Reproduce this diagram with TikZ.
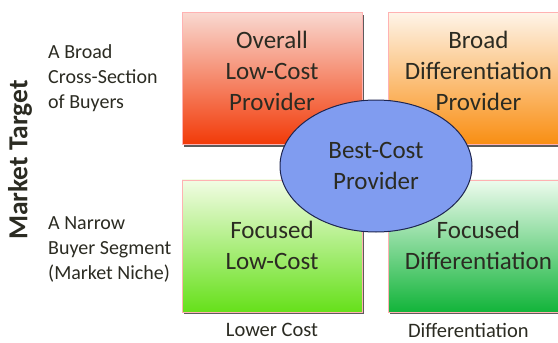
\documentclass[tikz,border=0pt]{standalone}
\usepackage{fontspec}
\setmainfont{Carlito}
\usepackage{xcolor}
\usetikzlibrary{positioning,shapes.geometric,shadows}

\definecolor{inkgray}{HTML}{2B2B22}
\definecolor{redtop}{HTML}{F9D8D0}
\definecolor{redmid}{HTML}{F37A56}
\definecolor{redbot}{HTML}{F23A08}
\definecolor{orgtop}{HTML}{FEF4E8}
\definecolor{orgmid}{HTML}{FBC47A}
\definecolor{orgbot}{HTML}{F98E12}
\definecolor{limetop}{HTML}{F2FCE4}
\definecolor{limemid}{HTML}{B4F070}
\definecolor{limebot}{HTML}{66E01A}
\definecolor{grntop}{HTML}{EEFBEE}
\definecolor{grnmid}{HTML}{7AD88A}
\definecolor{grnbot}{HTML}{12B43A}
\definecolor{oval}{HTML}{809CF0}
\definecolor{navy}{HTML}{1E2550}

\begin{document}
\begin{tikzpicture}[
    x=1pt, y=-1pt,
    node distance=35pt and 26pt,
    every node/.style={text=inkgray},
    quad/.style={draw=red!30, line width=0.4pt, minimum width=180pt, minimum height=132pt, align=center, font=\fontsize{25}{31}\selectfont, drop shadow={shadow xshift=1.8pt, shadow yshift=-2pt, fill=black!75, opacity=0.85}},
    upper/.style={text depth=15pt},
    bestbox/.style={ellipse, draw=navy, line width=1pt, fill=oval, minimum width=192pt, minimum height=132pt, align=center, font=\fontsize{25}{31}\selectfont},
    side/.style={align=left, inner sep=0pt, font=\fontsize{20}{25}\selectfont},
    axislbl/.style={font=\fontsize{20.5}{24}\selectfont}
]
\useasboundingbox (0,0) rectangle (558,343);

% the four strategy boxes
\node[quad, upper, top color=redtop, middle color=redmid, bottom color=redbot] (lowcost) at (272,78.5) {Overall\\Low-Cost\\Provider};
\node[quad, upper, top color=orgtop, middle color=orgmid, bottom color=orgbot, right=of lowcost] (broaddiff) {Broad\\Differentiation\\Provider};
\node[quad, top color=limetop, middle color=limemid, bottom color=limebot, below=of lowcost] (foclow) {Focused\\Low-Cost};
\node[quad, top color=grntop, middle color=grnmid, bottom color=grnbot, below=of broaddiff] (focdiff) {Focused\\Differentiation};

% best-cost sits over the middle
\node[bestbox] (bestcost) at (376,166) {Best-Cost\\Provider};

% row labels
\node[side, anchor=west] (broadlbl) at (48,78) {A Broad\\Cross-Section\\of Buyers};
\node[side, anchor=west] (narrowlbl) at (48,249) {A Narrow\\Buyer Segment\\(Market Niche)};
\node[rotate=90, font=\fontsize{27.5}{31}\selectfont\bfseries] (target) at (20,160) {Market Target};

% column labels
\node[axislbl, below=8pt of foclow] (lowerlbl) {Lower Cost};
\node[axislbl, below=8pt of focdiff, xshift=-10pt] (difflbl) {Differentiation};
\end{tikzpicture}
\end{document}
